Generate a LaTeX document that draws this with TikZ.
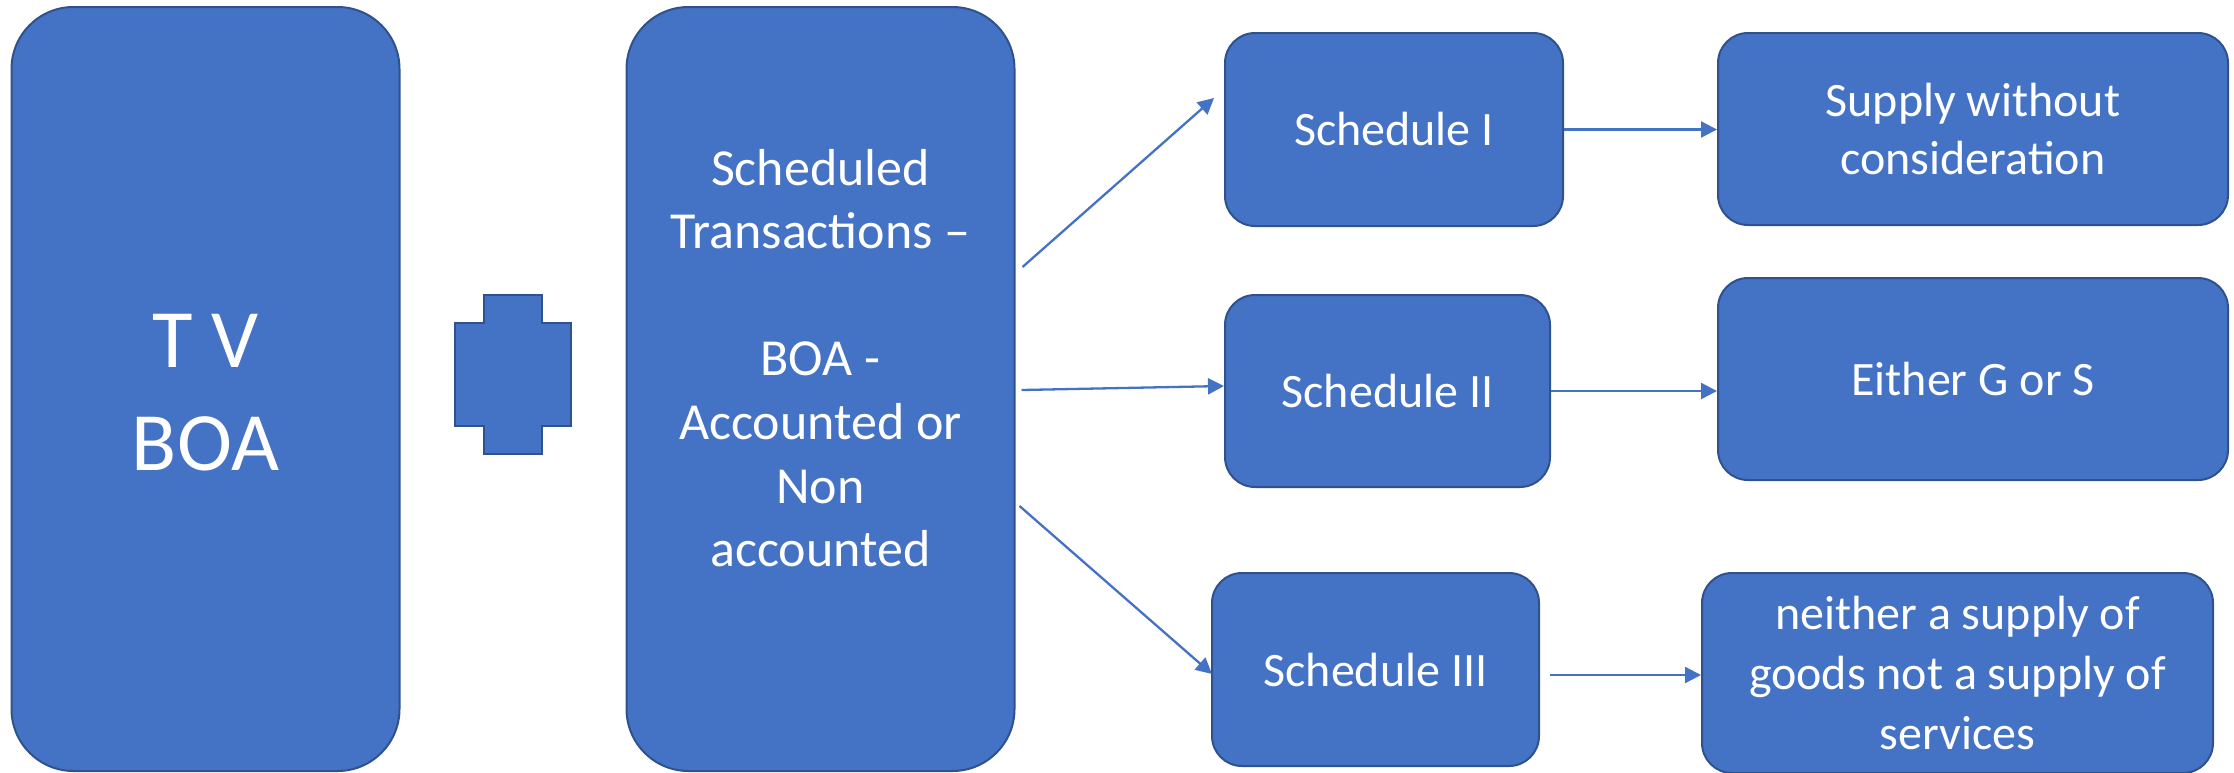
\documentclass[tikz,border=0pt]{standalone}
\usepackage{fontspec}
\setmainfont{Carlito}
\usetikzlibrary{arrows.meta,calc}
\definecolor{boxfill}{HTML}{4472C4}
\definecolor{boxline}{HTML}{2F528F}
\begin{document}
\begin{tikzpicture}[x=1pt,y=-1pt,
  card/.style={rectangle, draw=boxline, fill=boxfill, line width=2pt,
    inner sep=0pt, text=white, align=center},
  tallcard/.style={card, rounded corners=62pt, minimum width=388pt, minimum height=764pt},
  smallcard/.style={card, rounded corners=30pt, font=\fontsize{48}{58}\selectfont},
  label/.style={inner sep=0pt, text=white, align=center},
  link/.style={draw=boxfill, line width=2.3pt, -{Triangle[length=16pt,width=16pt]}}]
\useasboundingbox (0,0) rectangle (2234,772);

% two tall panels and the plus sign between them
\node[tallcard] (tv) at (205.5,389) {};
\node[label, font=\fontsize{83}{103}\selectfont] (tvtext) at ($(tv.center)+(0,4)$) {T V\\BOA};

\draw[draw=boxline, fill=boxfill, line width=2pt]
  (484,295) -- (542,295) -- (542,323) -- (571,323) -- (571,426) -- (542,426)
  -- (542,454) -- (484,454) -- (484,426) -- (455,426) -- (455,323) -- (484,323) -- cycle;

\node[tallcard] (sched) at (820.5,389) {};
\node[label, font=\fontsize{52}{63.6}\selectfont] (schedtext) at ($(sched.center)+(0,-31)$)
  {Scheduled\\Transactions –\\[63.6pt]BOA -\\Accounted or\\Non\\accounted};

% the three schedules
\node[smallcard, minimum width=338pt, minimum height=193pt] (s1) at (1394,129.5) {Schedule I};
\node[smallcard, minimum width=325pt, minimum height=192pt] (s2) at (1387.5,391) {Schedule II};
\node[smallcard, minimum width=327pt, minimum height=193pt] (s3) at (1375.5,669.5) {Schedule III};

% what each schedule covers
\node[smallcard, minimum width=510pt, minimum height=192pt] (sup) at (1973,129)
  {Supply without\\consideration};
\node[smallcard, minimum width=510pt, minimum height=202pt] (eith) at (1973,379) {Either G or S};
\node[smallcard, minimum width=511pt, minimum height=200pt,
  font=\fontsize{48}{60}\selectfont] (nei) at (1957.5,673)
  {neither a supply of\\goods not a supply of\\services};

% connectors
\draw[link] ($(sched.east)+(7,-122)$) -- ($(s1.west)+(-10,-31.5)$);
\draw[link] ($(sched.east)+(6,1)$) -- ($(s2.west)+(0,-5)$);
\draw[link] ($(sched.east)+(4,117)$) -- ($(s3.west)+(1,4.5)$);
\draw[link] (s1.east) -- (s1.east -| sup.west);
\draw[link] (s2.east) -- (s2.east -| eith.west);
\draw[link] ($(s3.east)+(10,5.5)$) coordinate (s3out) -- (s3out -| nei.west);
\end{tikzpicture}
\end{document}
